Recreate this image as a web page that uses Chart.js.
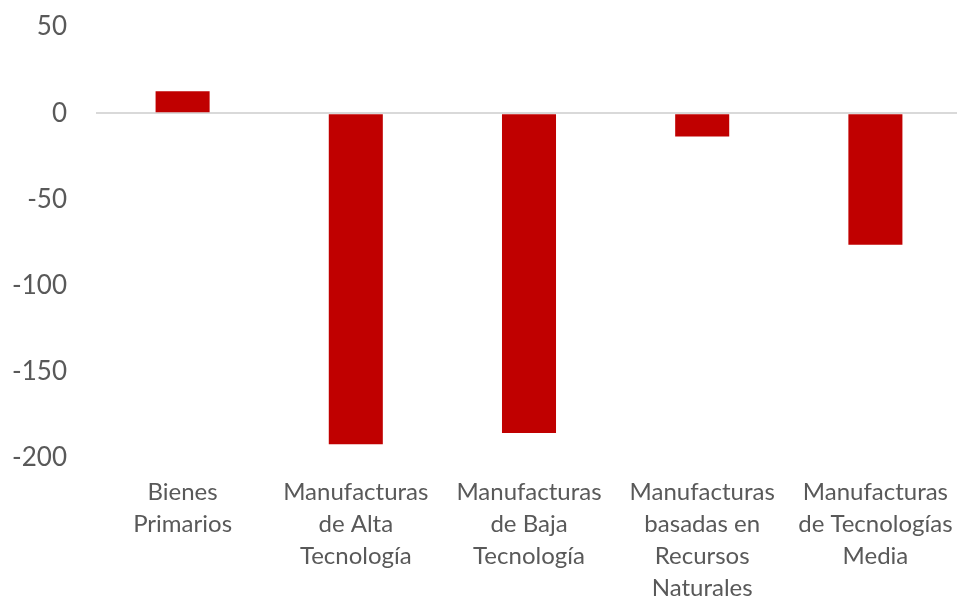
<!DOCTYPE html>
<html>
<head>
<meta charset="utf-8">
<script src="https://cdn.jsdelivr.net/npm/chart.js@4"></script>
<style>
  html, body { margin: 0; padding: 0; background: #fff; overflow: hidden; }
  #wrap { width: 962px; height: 599px; }
</style>
</head>
<body>
<div id="wrap"><canvas id="chart"></canvas></div>
<script>
const categories = [
  ['Bienes', 'Primarios'],
  ['Manufacturas', 'de Alta', 'Tecnología'],
  ['Manufacturas', 'de Baja', 'Tecnología'],
  ['Manufacturas', 'basadas en', 'Recursos', 'Naturales'],
  ['Manufacturas', 'de Tecnologías', 'Media']
];
const values = [12.7, -192, -185.5, -13.5, -76.3];
const yMin = -200;
const yMax = 50;
const yStep = 50;

const textColor = '#595959';

new Chart(document.getElementById('chart').getContext('2d'), {
  type: 'bar',
  data: {
    labels: categories,
    datasets: [{
      data: values,
      backgroundColor: '#C00000',
      borderWidth: 0,
      categoryPercentage: 1,
      barPercentage: 0.312,
    }],
  },
  options: {
    responsive: true,
    maintainAspectRatio: false,
    animation: false,
    layout: { padding: { top: 27, right: 0, bottom: 0, left: 0 } },
    plugins: { legend: { display: false }, tooltip: { enabled: false } },
    scales: {
      x: {
        grid: { display: false },
        border: { display: false },
        ticks: {
          color: textColor,
          font: { family: 'Lato', size: 24, lineHeight: 1.34 },
          maxRotation: 0,
          autoSkip: false,
          padding: 10,
        },
        afterFit: (scale) => {
          scale.height = 141;
          scale.paddingLeft = 0;
          scale.paddingRight = 0;
        },
      },
      y: {
        min: yMin,
        max: yMax,
        border: { display: false },
        grid: {
          drawTicks: false,
          color: (ctx) => (ctx.tick && ctx.tick.value === 0 ? '#d9d9d9' : 'rgba(0,0,0,0)'),
          lineWidth: 2,
        },
        ticks: {
          stepSize: yStep,
          color: textColor,
          font: { family: 'Lato', size: 26 },
          padding: 29,
        },
        afterFit: (scale) => {
          scale.width = 96;
          scale.paddingTop = 0;
          scale.paddingBottom = 0;
        },
      },
    },
  },
});
</script>
</body>
</html>
